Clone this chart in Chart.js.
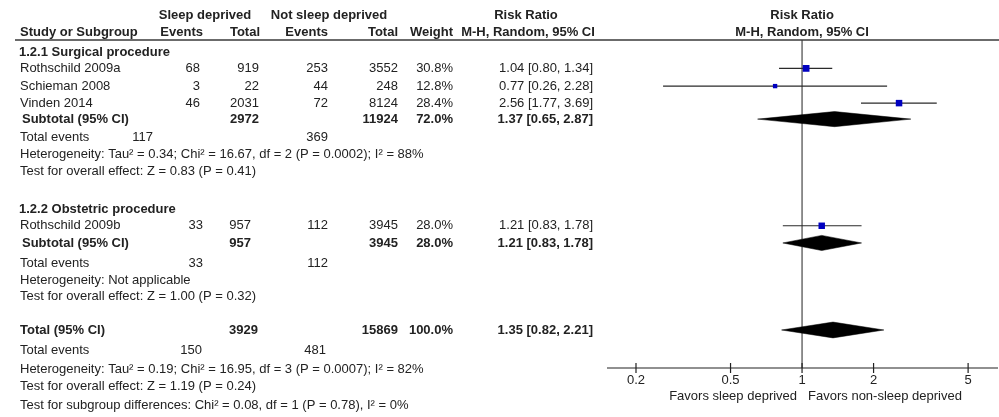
<!DOCTYPE html>
<html>
<head>
<meta charset="utf-8">
<script src="https://cdn.jsdelivr.net/npm/chart.js@4"></script>
<style>
  html, body { margin: 0; padding: 0; background: #fff; }
  #wrap { width: 999px; height: 417px; }
</style>
</head>
<body>
<div id="wrap"><canvas id="c" width="999" height="417"></canvas></div>
<script>
// ---- Study-level data ----
const studies   = ['Rothschild 2009a', 'Schieman 2008', 'Vinden 2014', 'Rothschild 2009b'];
const studyGrp  = [0, 0, 0, 1];
const sdEvents  = [68, 3, 46, 33];
const sdTotal   = [919, 22, 2031, 957];
const nsdEvents = [253, 44, 72, 112];
const nsdTotal  = [3552, 248, 8124, 3945];
const weights   = [30.8, 12.8, 28.4, 28.0];
const rr        = [1.04, 0.77, 2.56, 1.21];
const rrLo      = [0.80, 0.26, 1.77, 0.83];
const rrHi      = [1.34, 2.28, 3.69, 1.78];

// ---- Subgroup data ----
const groups        = ['1.2.1 Surgical procedure', '1.2.2 Obstetric procedure'];
const grpSdTotal    = [2972, 957];
const grpNsdTotal   = [11924, 3945];
const grpWeight     = [72.0, 28.0];
const grpRR         = [1.37, 1.21];
const grpLo         = [0.65, 0.83];
const grpHi         = [2.87, 1.78];
const grpSdEvents   = [117, 33];
const grpNsdEvents  = [369, 112];
const grpHetero     = ['Heterogeneity: Tau\u00b2 = 0.34; Chi\u00b2 = 16.67, df = 2 (P = 0.0002); I\u00b2 = 88%',
                       'Heterogeneity: Not applicable'];
const grpEffect     = ['Test for overall effect: Z = 0.83 (P = 0.41)',
                       'Test for overall effect: Z = 1.00 (P = 0.32)'];

// ---- Overall data ----
const totSdTotal  = 3929;
const totNsdTotal = 15869;
const totWeight   = 100.0;
const totRR       = 1.35;
const totLo       = 0.82;
const totHi       = 2.21;
const totSdEvents = 150;
const totNsdEvents = 481;
const totHetero   = 'Heterogeneity: Tau\u00b2 = 0.19; Chi\u00b2 = 16.95, df = 3 (P = 0.0007); I\u00b2 = 82%';
const totEffect   = 'Test for overall effect: Z = 1.19 (P = 0.24)';
const subgroupDiff = 'Test for subgroup differences: Chi\u00b2 = 0.08, df = 1 (P = 0.78), I\u00b2 = 0%';

// ---- Axis ticks ----
const tickValues = [0.2, 0.5, 1, 2, 5];
const favorsLeft  = 'Favors sleep deprived';
const favorsRight = 'Favors non-sleep deprived';

// ---- Row layout (units of the vertical scale) ----
const studyRow   = [0.95, 1.98, 2.97, 10.1];
const grpHeadRow = [0, 9.13];
const grpSubRow  = [3.9, 11.1];
const grpEvRow   = [4.94, 12.27];
const grpHetRow  = [5.93, 13.26];
const grpEffRow  = [6.92, 14.19];
const totRow = 16.16, totEvRow = 17.35, totHetRow = 18.43, totEffRow = 19.42, diffRow = 20.52;
const head1Row = -2.15, head2Row = -1.16, tickLabelRow = 19.1, favorsRow = 20.0;

const fmt2 = v => v.toFixed(2);
const ciText = (e, l, h) => `${fmt2(e)} [${fmt2(l)}, ${fmt2(h)}]`;

const FONT = '"Liberation Sans", Arial, sans-serif';
const TXT = '#222';
const BLUE = '#0000c0';

// CI whiskers for each study
const ciSets = studies.map((s, i) => ({
  type: 'line',
  data: [{ x: rrLo[i], y: studyRow[i] }, { x: rrHi[i], y: studyRow[i] }],
  borderColor: '#2a2a2a',
  borderWidth: 1.2,
  pointRadius: 0,
  fill: false,
  order: 3
}));

// pooled diamonds
function diamond(est, lo, hi, row, half) {
  return {
    type: 'line',
    data: [
      { x: lo, y: row }, { x: est, y: row - half },
      { x: hi, y: row }, { x: est, y: row + half }, { x: lo, y: row }
    ],
    borderColor: '#000',
    borderWidth: 0.5,
    backgroundColor: '#000',
    pointRadius: 0,
    fill: 'shape',
    order: 2
  };
}
const diamondSets = groups.map((g, k) => diamond(grpRR[k], grpLo[k], grpHi[k], grpSubRow[k], 0.44));
diamondSets.push(diamond(totRR, totLo, totHi, totRow, 0.46));

// study squares, side grows with sqrt(weight)
const squareSet = {
  type: 'scatter',
  data: studies.map((s, i) => ({ x: rr[i], y: studyRow[i] })),
  pointStyle: 'rect',
  pointRadius: weights.map(w => (1.22 * Math.sqrt(w)) / Math.SQRT2),
  pointBackgroundColor: BLUE,
  pointBorderWidth: 0,
  order: 0
};

const forestPlugin = {
  id: 'forestTable',
  beforeDatasetsDraw(chart) {
    const { ctx, chartArea, scales } = chart;
    const x1 = scales.x.getPixelForValue(1);
    ctx.save();
    ctx.strokeStyle = '#555';
    ctx.lineWidth = 1.3;
    ctx.beginPath();
    ctx.moveTo(x1, chartArea.top);
    ctx.lineTo(x1, chartArea.bottom);
    ctx.stroke();
    ctx.restore();
  },
  afterDraw(chart) {
    const { ctx, chartArea, scales } = chart;
    const xs = scales.x, ys = scales.y;
    const Y = r => ys.getPixelForValue(r);

    ctx.save();
    // header rule
    ctx.strokeStyle = '#3a3a3a';
    ctx.lineWidth = 1.6;
    ctx.beginPath();
    ctx.moveTo(15, chartArea.top);
    ctx.lineTo(999, chartArea.top);
    ctx.stroke();

    // x axis
    const ay = chartArea.bottom;
    ctx.strokeStyle = '#222';
    ctx.lineWidth = 1.2;
    ctx.beginPath();
    ctx.moveTo(chartArea.left, ay);
    ctx.lineTo(chartArea.right, ay);
    tickValues.forEach(t => {
      const px = xs.getPixelForValue(t);
      ctx.moveTo(px, ay - 5);
      ctx.lineTo(px, ay + 5);
    });
    ctx.stroke();

    const text = (s, x, r, align, bold) => {
      ctx.font = (bold ? 'bold ' : '') + '13px ' + FONT;
      ctx.textAlign = align;
      ctx.textBaseline = 'middle';
      ctx.fillStyle = TXT;
      ctx.fillText(s, x, Y(r));
    };

    tickValues.forEach(t => text(String(t), xs.getPixelForValue(t), tickLabelRow, 'center', false));
    const x1 = xs.getPixelForValue(1);
    text(favorsLeft, x1 - 5, favorsRow, 'right', false);
    text(favorsRight, x1 + 6, favorsRow, 'left', false);

    // column headers
    text('Sleep deprived', 205, head1Row, 'center', true);
    text('Not sleep deprived', 329, head1Row, 'center', true);
    text('Risk Ratio', 526, head1Row, 'center', true);
    text('Risk Ratio', x1, head1Row, 'center', true);
    text('Study or Subgroup', 20, head2Row, 'left', true);
    text('Events', 203, head2Row, 'right', true);
    text('Total', 260, head2Row, 'right', true);
    text('Events', 328, head2Row, 'right', true);
    text('Total', 398, head2Row, 'right', true);
    text('Weight', 453, head2Row, 'right', true);
    text('M-H, Random, 95% CI', 528, head2Row, 'center', true);
    text('M-H, Random, 95% CI', x1, head2Row, 'center', true);

    // subgroups
    groups.forEach((g, k) => {
      const sdTotX = k === 0 ? 259 : 251;
      text(g, 19, grpHeadRow[k], 'left', true);
      studies.forEach((s, i) => {
        if (studyGrp[i] !== k) return;
        const r = studyRow[i];
        text(s, 20, r, 'left', false);
        text(String(sdEvents[i]), k === 0 ? 200 : 203, r, 'right', false);
        text(String(sdTotal[i]), sdTotX, r, 'right', false);
        text(String(nsdEvents[i]), 328, r, 'right', false);
        text(String(nsdTotal[i]), 398, r, 'right', false);
        text(weights[i].toFixed(1) + '%', 453, r, 'right', false);
        text(ciText(rr[i], rrLo[i], rrHi[i]), 593, r, 'right', false);
      });
      const sr = grpSubRow[k];
      text('Subtotal (95% CI)', 22, sr, 'left', true);
      text(String(grpSdTotal[k]), sdTotX, sr, 'right', true);
      text(String(grpNsdTotal[k]), 398, sr, 'right', true);
      text(grpWeight[k].toFixed(1) + '%', 453, sr, 'right', true);
      text(ciText(grpRR[k], grpLo[k], grpHi[k]), 593, sr, 'right', true);
      text('Total events', 20, grpEvRow[k], 'left', false);
      text(String(grpSdEvents[k]), k === 0 ? 153 : 203, grpEvRow[k], 'right', false);
      text(String(grpNsdEvents[k]), 328, grpEvRow[k], 'right', false);
      text(grpHetero[k], 20, grpHetRow[k], 'left', false);
      text(grpEffect[k], 20, grpEffRow[k], 'left', false);
    });

    // overall
    text('Total (95% CI)', 20, totRow, 'left', true);
    text(String(totSdTotal), 258, totRow, 'right', true);
    text(String(totNsdTotal), 398, totRow, 'right', true);
    text(totWeight.toFixed(1) + '%', 453, totRow, 'right', true);
    text(ciText(totRR, totLo, totHi), 593, totRow, 'right', true);
    text('Total events', 20, totEvRow, 'left', false);
    text(String(totSdEvents), 202, totEvRow, 'right', false);
    text(String(totNsdEvents), 326, totEvRow, 'right', false);
    text(totHetero, 20, totHetRow, 'left', false);
    text(totEffect, 20, totEffRow, 'left', false);
    text(subgroupDiff, 20, diffRow, 'left', false);
    ctx.restore();
  }
};

new Chart(document.getElementById('c'), {
  type: 'scatter',
  data: { datasets: [squareSet, ...diamondSets, ...ciSets] },
  options: {
    responsive: false,
    animation: false,
    devicePixelRatio: 1,
    layout: { autoPadding: false, padding: { left: 607, right: 1, top: 40, bottom: 49 } },
    plugins: { legend: { display: false }, tooltip: { enabled: false } },
    scales: {
      x: { type: 'logarithmic', min: 0.151, max: 6.68, display: false },
      y: { type: 'linear', min: -0.7, max: 18.37, reverse: true, display: false }
    }
  },
  plugins: [forestPlugin]
});
</script>
</body>
</html>
